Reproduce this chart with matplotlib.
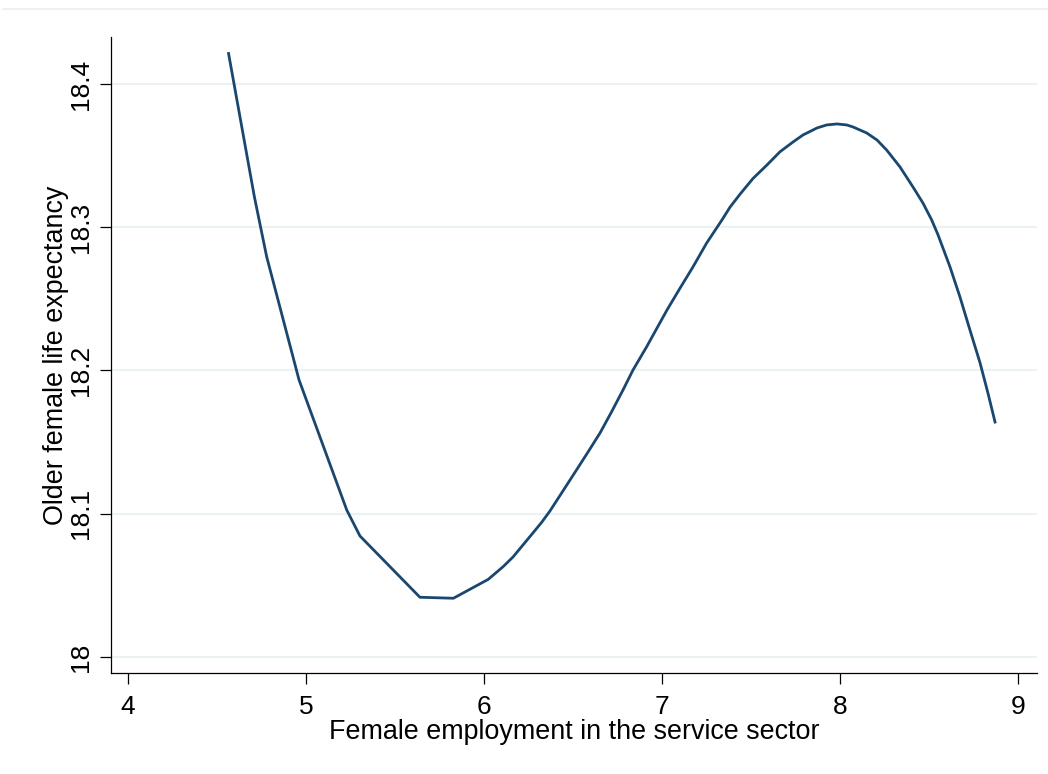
import matplotlib
matplotlib.use('Agg')
import matplotlib.pyplot as plt
from matplotlib.lines import Line2D

# fitted curve: employment share vs. older female life expectancy
service_emp = [4.565, 4.710, 4.779, 4.961, 5.229, 5.303, 5.640, 5.828,
               6.024, 6.107, 6.163, 6.219, 6.275, 6.324, 6.371, 6.444,
               6.522, 6.584, 6.652, 6.717, 6.781, 6.837, 6.914, 7.028,
               7.101, 7.174, 7.251, 7.337, 7.382, 7.438, 7.511, 7.590,
               7.663, 7.736, 7.792, 7.871, 7.925, 7.983, 8.038, 8.073,
               8.150, 8.208, 8.262, 8.337, 8.410, 8.466, 8.515, 8.551,
               8.618, 8.674, 8.730, 8.787, 8.831, 8.871]
life_exp = [18.4213, 18.3213, 18.2795, 18.1934, 18.1026, 18.0845, 18.0417, 18.0410,
            18.0542, 18.0630, 18.0698, 18.0782, 18.0866, 18.0940, 18.1020, 18.1160,
            18.1310, 18.1430, 18.1564, 18.1712, 18.1864, 18.2003, 18.2166, 18.2422,
            18.2574, 18.2723, 18.2890, 18.3051, 18.3140, 18.3230, 18.3340, 18.3435,
            18.3527, 18.3595, 18.3644, 18.3693, 18.3714, 18.3721, 18.3714, 18.3700,
            18.3658, 18.3609, 18.3539, 18.3421, 18.3281, 18.3169, 18.3051, 18.2946,
            18.2723, 18.2513, 18.2283, 18.2052, 18.1843, 18.1640]

xticks = [4, 5, 6, 7, 8, 9]
yticks = [18, 18.1, 18.2, 18.3, 18.4]
ytick_labels = ['18', '18.1', '18.2', '18.3', '18.4']

plt.rcParams['font.family'] = ['Liberation Sans', 'DejaVu Sans']

fig = plt.figure(figsize=(10.48, 7.74), dpi=100)
ax = fig.add_axes([0.1059, 0.1305, 0.8836, 0.8217])

# faint outer frame line along the top
fig.add_artist(Line2D([0.003, 1.0], [0.988, 0.988], transform=fig.transFigure,
                      color='#eeeeee', lw=1.2))

for y in yticks:
    ax.axhline(y, color='#eaf2f3', lw=1.5, zorder=0)

ax.plot(service_emp, life_exp, color='#1a476f', lw=2.0, solid_joinstyle='round')

ax.set_xlim(3.9045, 9.1067)
ax.set_ylim(17.98883, 18.4328)

for side in ['top', 'right']:
    ax.spines[side].set_visible(False)
for side in ['left', 'bottom']:
    ax.spines[side].set_linewidth(0.9)

ax.set_xticks(xticks)
ax.set_xticklabels([str(t) for t in xticks])
ax.set_yticks(yticks)
ax.set_yticklabels(ytick_labels, rotation=90, va='center')
ax.tick_params(axis='both', direction='out', length=8, width=0.9, labelsize=19)
ax.tick_params(axis='x', pad=7.5)
ax.tick_params(axis='y', pad=5)

ax.set_xlabel('Female employment in the service sector', fontsize=19.4, labelpad=0)
ax.set_ylabel('Older female life expectancy', fontsize=19.4, labelpad=0)

fig.savefig('out.png', dpi=100, facecolor='white')
